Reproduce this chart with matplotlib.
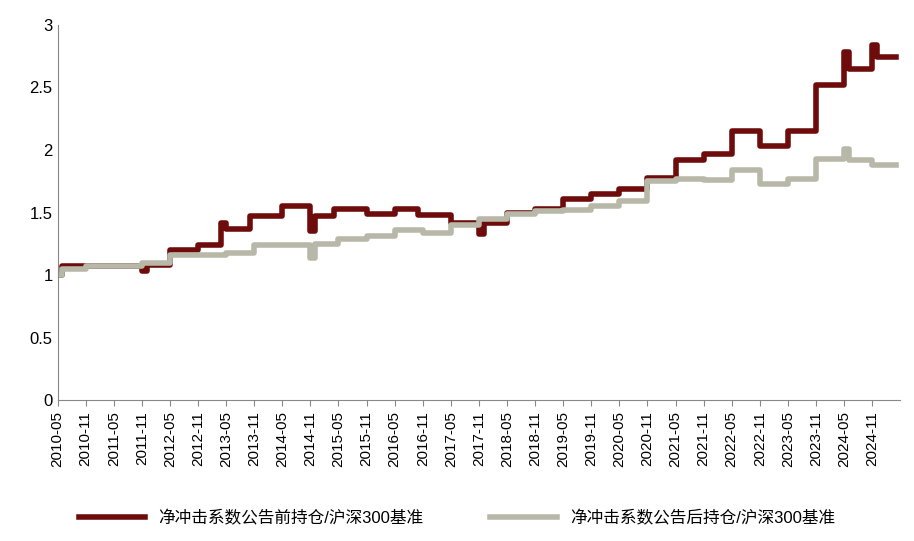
import matplotlib
matplotlib.use("Agg")
import matplotlib.pyplot as plt

plt.rcParams['font.family'] = ['Liberation Sans', 'Noto Sans CJK SC', 'DejaVu Sans']

def m(s):
    y, mo = s.split('-')
    return (int(y) - 2010) * 12 + int(mo) - 5

# step breakpoints (month, value)
red_dates = ['2010-05','2010-06','2011-11','2011-12','2012-05','2012-11','2013-04','2013-05','2013-10','2014-05','2014-11','2014-12','2015-04','2015-11','2016-05','2016-10','2017-05','2017-11','2017-12','2018-05','2018-11','2019-05','2019-11','2020-05','2020-11','2021-05','2021-11','2022-05','2022-11','2023-05','2023-11','2024-05','2024-06','2024-11','2024-12','2025-04']
red_vals  = [1.00,1.07,1.03,1.08,1.20,1.24,1.42,1.37,1.47,1.55,1.35,1.47,1.53,1.49,1.53,1.48,1.42,1.33,1.42,1.50,1.53,1.61,1.65,1.69,1.78,1.92,1.97,2.15,2.03,2.15,2.52,2.78,2.65,2.84,2.74,2.74]

gray_dates = ['2010-05','2010-06','2010-11','2011-11','2012-05','2013-05','2013-11','2014-11','2014-12','2015-05','2015-11','2016-05','2016-11','2017-05','2017-11','2018-05','2018-11','2019-05','2019-11','2020-05','2020-11','2021-05','2021-11','2022-05','2022-11','2023-05','2023-11','2024-05','2024-06','2024-11','2025-04']
gray_vals  = [1.00,1.05,1.07,1.10,1.16,1.18,1.24,1.14,1.25,1.29,1.31,1.36,1.34,1.40,1.45,1.49,1.51,1.52,1.55,1.59,1.75,1.77,1.76,1.84,1.73,1.77,1.93,2.01,1.92,1.88,1.88]

tick_labels = [f"{y}-{mo}" for y in range(2010, 2025) for mo in ('05', '11')]

fig = plt.figure(figsize=(9.14, 5.41), dpi=100)
ax = fig.add_axes([0.063, 0.26, 0.922, 0.694])
ax.plot([m(d) for d in red_dates], red_vals, drawstyle='steps-post', color='#6E0B0B', lw=4,
        label='净冲击系数公告前持仓/沪深300基准')
ax.plot([m(d) for d in gray_dates], gray_vals, drawstyle='steps-post', color='#B8B8A8', lw=4,
        label='净冲击系数公告后持仓/沪深300基准')
ax.set_ylim(0, 3)
ax.set_xlim(0, 180)
ax.set_yticks([0, 0.5, 1, 1.5, 2, 2.5, 3])
ax.set_yticklabels(['0', '0.5', '1', '1.5', '2', '2.5', '3'], fontsize=12)
ax.set_xticks([m(t) for t in tick_labels])
ax.set_xticklabels(tick_labels, rotation=90, fontsize=11)
for s in ('top', 'right'):
    ax.spines[s].set_visible(False)
ax.spines['left'].set_color('#888888')
ax.spines['bottom'].set_color('#888888')
ax.tick_params(axis='y', length=0)
ax.tick_params(axis='x', length=4, color='#888888')
fig.legend(loc='lower center', bbox_to_anchor=(0.5, 0.0), ncol=2, frameon=False,
           fontsize=12, handlelength=4, columnspacing=4)
fig.savefig('out.png', dpi=100)
